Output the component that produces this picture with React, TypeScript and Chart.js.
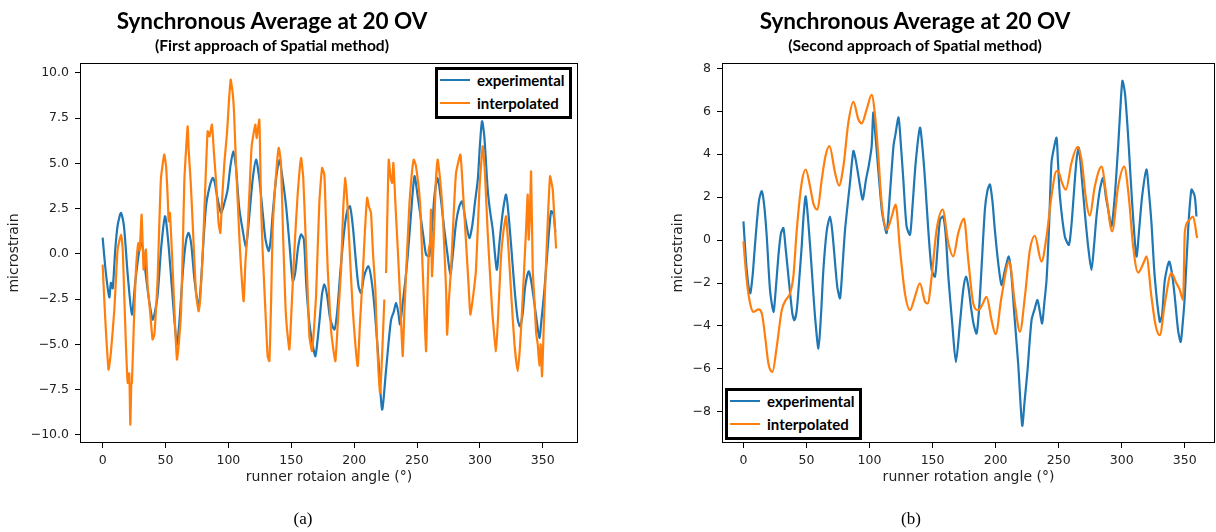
import React, { useEffect, useRef } from "react";
import { Chart, registerables } from "chart.js";

Chart.register(...registerables);

// ---------- tick labels ----------
const xTickValues = [0, 50, 100, 150, 200, 250, 300, 350];
const yTickValuesA = [-10, -7.5, -5, -2.5, 0, 2.5, 5, 7.5, 10];
const yTickValuesB = [-8, -6, -4, -2, 0, 2, 4, 6, 8];

const seriesLabels = ["experimental", "interpolated"];

// ---------- panel (a): first approach ----------
const expA_angle = [0, 2.5, 5.3, 6.6, 8, 10, 12, 14.6, 17, 20, 23.3, 26, 29.2, 30.5, 32, 34.4, 37, 39.7, 41, 43.7, 46.5, 49.6, 52, 55, 57, 59.1, 61, 64, 66.5, 68.4, 70.5, 73, 76.3, 78, 80, 82.2, 85, 87.5, 89, 91, 94.1, 96, 99.4, 101.5, 103.9, 106, 108.5, 111.3, 114, 116.5, 119.3, 122, 124.5, 127.3, 129.5, 132, 133.5, 135.3, 138, 140.6, 143, 145.9, 148.5, 151.2, 153, 155.5, 157.8, 160, 162, 164.4, 167, 169.2, 172.3, 174.5, 176.3, 178.5, 181, 184.3, 186.5, 189, 192.2, 194.5, 196.7, 199, 201.5, 203.5, 205.5, 208, 211.3, 213.5, 216.1, 219, 222.2, 225.4, 227.5, 229.4, 231.5, 233.3, 235, 236.5, 238.5, 240.5, 242.6, 245, 248, 250.5, 253.2, 255.2, 257.2, 259.8, 262, 264, 266.4, 268.5, 271.7, 274, 276.5, 278.5, 281, 283.5, 285.8, 288.5, 291.6, 294, 296, 298.3, 300, 301.7, 303.5, 306.2, 308, 310.2, 313.4, 315.5, 318.1, 320.8, 323, 326.1, 328, 330.1, 331.9, 334, 336, 338.8, 341, 344.7, 347.3, 349, 351.3, 354, 356.6, 358.5, 360];
const expA_value = [0.9, -1.0, -2.4, -1.6, -1.9, 0.2, 1.6, 2.27, 1.5, -1.2, -3.35, -1.5, 0.24, 0.6, 0.3, -1.2, -2.6, -3.63, -3.4, -2.3, 0.3, 2.08, 0.8, -1.8, -3.6, -5.0, -3.8, -0.8, 0.8, 1.16, 0.5, -1.4, -2.89, -1.8, 0.5, 2.63, 3.7, 4.2, 4.0, 3.2, 2.27, 2.6, 3.55, 4.8, 5.67, 4.8, 2.6, 1.34, 0.42, 2.0, 4.1, 5.21, 4.2, 2.27, 0.8, 0.15, 0.7, 2.27, 4.2, 5.2, 4.2, 2.63, 0.6, -1.51, -1.1, 0.4, 1.07, 0.8, -1.8, -3.81, -5.0, -5.65, -3.8, -2.2, -1.69, -2.3, -3.6, -4.18, -3.2, -1.0, 1.34, 2.4, 2.63, 1.5, -0.5, -1.8, -2.15, -1.2, -0.68, -1.3, -2.9, -5.5, -8.6, -6.4, -4.8, -3.63, -3.2, -2.71, -3.2, -3.9, -2.8, -1.6, -0.13, 2.0, 4.29, 3.2, 1.9, 0.9, -0.04, -0.13, 1.5, 3.3, 4.2, 3.3, 1.34, 0.1, -1.14, 0.0, 1.7, 2.6, 2.9, 1.9, 0.88, 1.6, 2.8, 4.1, 6.0, 7.33, 6.5, 3.55, 2.4, 1.34, -0.87, 0.6, 2.27, 3.28, 2.0, -0.68, -2.3, -3.63, -4.0, -3.3, -1.8, -0.96, -1.6, -3.44, -4.64, -3.6, -1.97, 0.4, 2.36, 2.2, 1.2];

const intA_angle = [0, 2, 4.7, 6.5, 9.3, 11.9, 14.6, 16, 17.2, 18.5, 19.9, 21.2, 22, 22.8, 23.3, 25, 26.5, 28.4, 29.5, 31, 32.6, 34.4, 35.8, 37.5, 39.7, 41.1, 42.5, 43.7, 45, 46.4, 49, 50.5, 51.7, 52.5, 53.5, 55.7, 57.5, 59.1, 60.5, 62.3, 63.8, 65, 67.6, 68.4, 70, 71.6, 74.2, 76.3, 77.5, 79.5, 81.5, 83.5, 85, 86.9, 88.5, 90.1, 92.2, 93.6, 95, 96.8, 98.9, 100.5, 101.8, 103.4, 104.5, 106, 107.5, 109.2, 112.1, 113.5, 115.3, 117, 118.5, 121.4, 122.5, 124.6, 126, 127.3, 129, 131.2, 132.6, 134, 135.2, 137.5, 140, 141.8, 143.5, 145.3, 146.4, 148.5, 150.5, 152.5, 155, 157.8, 159.5, 161.2, 162.8, 164.4, 166.5, 168, 169.7, 172.3, 174.5, 176.3, 177.5, 179, 181.6, 183.5, 185.1, 187.5, 189.6, 191.3, 193, 194.9, 196.8, 198.9, 202.8, 204.5, 206.8, 208.5, 210.3, 211.8, 213.4, 215, 216.9, 218, 219.5, 220.6, 222.2, 224, 224.7, 225.4, 226.5, 227.5, 229, 230.2, 231.2, 233, 234.7, 236.5, 238.6, 240, 242, 244, 245.8, 247.4, 249.2, 252.4, 254.5, 256, 257.2, 258.2, 259.3, 260.3, 261.1, 261.9, 263.5, 264.8, 266.4, 268.5, 270.4, 273.1, 273.9, 275.3, 277, 279, 281, 284.5, 286.5, 289, 290.8, 292.4, 294.5, 296.9, 299.6, 302.2, 304, 306.2, 309.7, 312.8, 314.8, 316.8, 318.8, 320.8, 322.8, 324.8, 327.5, 330.1, 332, 334.1, 336.7, 338, 338.8, 339.7, 340.7, 342, 343.3, 344.7, 346, 347.3, 348.3, 349.4, 351, 352.6, 354.2, 355.8, 357.9, 359.2, 360.6];
const intA_value = [-0.59, -3.5, -6.39, -5.5, -3.08, 0.24, 1.07, 0.2, -2.34, -5.0, -7.13, -6.6, -9.43, -7.2, -7.13, -3.5, -0.87, 0.6, 0.2, 2.17, -0.87, 0.24, -1.79, -3.0, -4.73, -4.46, -3.0, -1.42, 1.5, 4.2, 5.49, 4.8, 3.19, 1.8, 2.27, -0.87, -3.8, -5.84, -5.0, -3.26, 0.5, 4.1, 7.05, 5.76, 4.0, 1.7, -2.15, -3.17, -2.6, -0.13, 3.5, 6.78, 6.5, 7.15, 5.6, 4.1, 1.7, 1.16, 3.0, 5.03, 6.68, 8.5, 9.63, 8.9, 7.8, 5.03, 2.8, 0.24, -2.62, -0.5, 1.34, 3.8, 5.95, 7.15, 6.4, 7.42, 2.63, 0.06, -2.5, -5.65, -5.93, -2.5, 1.34, 4.0, 5.86, 5.03, 1.0, -2.71, -4.0, -5.28, -2.6, 0.24, 3.2, 5.3, 4.2, 1.34, -1.6, -4.55, -5.38, -4.2, -2.34, 2.82, 4.75, 4.38, 2.0, -0.87, -4.18, -5.3, -5.93, -3.2, -0.87, 2.5, 4.2, 2.45, -0.3, -3.08, -6.2, -4.0, -1.23, 1.2, 3.1, 2.6, 2.27, 0.0, -1.97, -4.5, -6.67, -7.68, -5.65, -2.52, null, -1.05, 2.5, 5.21, 4.2, 3.92, 5.03, 2.5, 0.24, -2.34, -5.65, -3.08, 0.0, 2.82, 4.4, 5.21, 4.84, 2.82, -0.87, -3.5, -5.38, -2.5, 0.24, 0.6, 2.45, -1.23, 1.2, 3.8, 5.21, 4.0, 2.27, -1.97, -4.46, -2.6, -0.87, 2.0, 4.47, 5.49, 3.5, 0.6, -1.5, -3.35, -2.4, -0.87, 3.55, 5.95, 4.5, 1.16, -3.08, -5.38, -3.0, -0.13, 1.3, 2.08, 0.2, -2.15, -5.0, -6.48, -5.0, -2.34, 1.34, 3.28, 0.79, 2.0, 4.56, -0.87, -2.5, -4.36, -5.0, -6.2, -5.0, -6.76, -3.5, -0.5, 2.2, 4.29, 3.55, 2.0, 0.3];

// ---------- panel (b): second approach ----------
const expB_angle = [0, 2.6, 5.3, 7.2, 8.8, 10.6, 12.5, 14.6, 16.5, 18.5, 21.1, 23.8, 25.5, 27.7, 29.7, 31.7, 33.5, 35.7, 38.8, 40.4, 42.3, 44.3, 46.2, 47.8, 49.4, 51.5, 54.2, 56.8, 59.5, 61.5, 63.4, 66, 68.7, 70.5, 72.7, 74.5, 76.6, 78.5, 80.6, 84.5, 87.2, 89, 92.5, 94.6, 97.2, 99.5, 101.7, 103, 104.5, 106.5, 109.7, 111.5, 113.6, 116, 119, 120.5, 123, 124.8, 126.8, 129.4, 132.1, 134, 136.6, 140, 142, 144, 146.6, 149.3, 151.9, 153.8, 155.9, 158.5, 160.5, 162.5, 165.6, 168.5, 171.7, 174.3, 176.5, 178.5, 180.4, 182.5, 184.9, 186.9, 188.9, 191.5, 193.5, 195.5, 197.5, 199.4, 202.1, 204.7, 207, 210.5, 212.5, 214.8, 217.9, 221.1, 223, 225.3, 228.5, 231, 233.2, 235, 236.9, 238.5, 240.4, 242.5, 244.3, 246.3, 248.3, 249.5, 251, 254.9, 258.1, 260, 261.5, 264.2, 266, 268.5, 270.8, 273.4, 276, 278, 280, 282.7, 285.3, 287.5, 289.3, 291.9, 294.5, 297.2, 299, 300.6, 302.5, 304, 305.6, 308.3, 311.7, 314, 316.2, 319.6, 321.5, 323.6, 326.2, 330.2, 332, 334.2, 337.6, 340, 342.1, 344.7, 346.8, 348.5, 350, 352.7, 355.3, 357.9, 359.3];
const expB_value = [0.87, -1.39, -2.48, -1.7, -0.5, 0.8, 1.9, 2.28, 1.6, 0.17, -2.33, -3.34, -2.4, -0.76, 0.3, 0.56, -0.4, -1.7, -3.42, -3.73, -3.26, -1.8, -0.3, 1.2, 2.04, 0.8, -1.39, -3.57, -5.05, -3.5, -1.39, 0.4, 1.1, 0.4, -1.08, -2.2, -2.71, -1.3, 0.48, 2.67, 4.15, 3.76, 2.51, 1.89, 2.82, 3.5, 4.38, 5.94, 5.0, 3.6, 1.42, 0.8, 0.33, 2.0, 4.38, 4.9, 5.71, 4.5, 2.82, 0.64, 0.25, 1.5, 3.6, 5.24, 4.3, 2.82, 0.48, -1.39, -1.7, -0.5, 0.95, 1.1, 0.2, -1.7, -3.88, -5.68, -3.88, -2.32, -1.7, -2.2, -3.1, -3.9, -4.35, -3.2, -1.23, 1.42, 2.3, 2.59, 1.8, 0.48, -1.08, -2.09, -1.5, -0.76, -1.6, -3.42, -5.76, -8.64, -7.5, -6.07, -3.73, -3.2, -2.79, -3.3, -3.88, -3.0, -1.86, 0.8, 3.6, 4.3, 4.77, 3.6, 2.04, 0.17, -0.22, 0.6, 1.73, 3.76, 4.3, 2.8, 1.26, -0.3, -1.39, -0.3, 1.1, 2.35, 2.9, 2.0, 1.42, 0.64, 2.04, 4.38, 6.2, 7.42, 6.88, 5.8, 4.38, 1.73, -0.76, 0.6, 2.04, 3.29, 2.3, 0.8, -1.7, -3.8, -3.5, -1.86, -1.0, -1.6, -2.64, -4.19, -4.74, -3.8, -2.64, 0.48, 2.35, 2.04, 1.1];

const intB_angle = [0, 2.6, 5.3, 8, 11.9, 14.6, 17.2, 19.8, 23, 26.4, 30.4, 33.6, 37, 39.6, 42.3, 46.2, 49.4, 52.8, 55.5, 58.7, 62.1, 65, 68.2, 72.7, 75.8, 79.3, 83.2, 87.2, 91.1, 93.8, 97.8, 101.7, 104.4, 107, 109.6, 113.6, 117.6, 120.7, 124.2, 128.1, 132.1, 136, 140, 144, 146.1, 149.3, 153.2, 158, 162.5, 166.4, 170.4, 174.9, 178.3, 182.3, 186.2, 189.5, 192.8, 196.8, 200, 204.7, 210.8, 215.3, 219.3, 223.2, 227.2, 231.1, 236.4, 240.4, 244.3, 248.3, 249.6, 252.5, 255.7, 260.2, 265, 268.1, 272.1, 274.7, 278.7, 284, 287.9, 292.4, 297.2, 302, 305.6, 309.1, 313, 317.8, 319.6, 323.6, 327, 330.2, 334.2, 339.4, 343.4, 346, 348.7, 349.5, 350, 352.7, 356.6, 359.8];
const intB_value = [-0.06, -1.86, -2.95, -3.34, -3.23, -3.42, -4.5, -5.75, -6.14, -4.97, -3.26, -2.79, -2.48, -1.7, 0.48, 2.67, 3.29, 2.51, 1.7, 1.42, 2.82, 3.9, 4.38, 3.13, 2.54, 3.44, 5.47, 6.44, 5.63, 5.44, 6.1, 6.77, 5.79, 3.91, 1.73, 0.48, 1.1, 1.65, -0.45, -2.48, -3.26, -2.64, -2.01, -2.87, -2.95, -1.7, 0.48, 1.42, -0.14, -0.76, 0.33, 1.0, -0.92, -2.95, -3.26, -3.0, -2.64, -3.73, -4.38, -2.64, -1.0, -2.95, -4.27, -2.64, -0.45, 0.2, -1.0, 0.17, 2.04, 3.21, 3.21, 2.7, 2.35, 3.6, 4.35, 3.76, 1.73, 1.14, 2.51, 3.42, 2.04, 0.41, 2.51, 3.42, 2.04, -0.3, -1.51, -1.0, -0.76, -2.64, -4.0, -4.43, -2.95, -1.54, -2.01, -2.3, -2.79, -1.0, 0.33, 0.87, 1.1, 0.1];

// ---------- helpers ----------
const BLUE = "#1f77b4";
const ORANGE = "#ff7f0e";
const TICK_FONT = { family: "'DejaVu Sans', sans-serif", size: 12.5 };
const AXIS_TITLE_FONT = { family: "'DejaVu Sans', sans-serif", size: 14 };
const TITLE_FONT = "'Lato', 'Open Sans', sans-serif";

function toPoints(xs: number[], ys: (number | null)[]) {
  return xs.map((x, i) => ({ x, y: ys[i] }));
}

const minus = (s: string) => s.replace("-", "\u2212");

const framePlugin = {
  id: "frame",
  afterDatasetsDraw(chart: any) {
    const { ctx, chartArea } = chart;
    const l = Math.round(chartArea.left) + 0.5;
    const t = Math.round(chartArea.top) + 0.5;
    const r = Math.round(chartArea.right) - 0.5;
    const b = Math.round(chartArea.bottom) - 0.5;
    ctx.save();
    ctx.strokeStyle = "#000";
    ctx.lineWidth = 1;
    ctx.strokeRect(l, t, r - l, b - t);
    ctx.restore();
  },
};

type PanelCfg = {
  left: number;
  padLeft: number;
  padRight: number;
  yAxisWidth: number;
  xMin: number;
  xMax: number;
  yMin: number;
  yMax: number;
  yTicks: number[];
  yFmt: (v: number) => string;
  xTitle: string;
  expX: number[];
  expY: number[];
  intX: number[];
  intY: (number | null)[];
  intSmooth: boolean;
};

function Panel({ cfg }: { cfg: PanelCfg }) {
  const ref = useRef<HTMLCanvasElement>(null);
  useEffect(() => {
    const chart = new Chart(ref.current as HTMLCanvasElement, {
      type: "line",
      data: {
        datasets: [
          {
            label: seriesLabels[1],
            data: toPoints(cfg.intX, cfg.intY) as any,
            borderColor: ORANGE,
            backgroundColor: ORANGE,
            borderWidth: 2.2,
            pointRadius: 0,
            tension: cfg.intSmooth ? 0 : 0.15,
            cubicInterpolationMode: cfg.intSmooth ? "monotone" : "default",
            spanGaps: false,
            order: 0,
          },
          {
            label: seriesLabels[0],
            data: toPoints(cfg.expX, cfg.expY) as any,
            borderColor: BLUE,
            backgroundColor: BLUE,
            borderWidth: 2.2,
            pointRadius: 0,
            tension: 0.25,
            order: 1,
          },
        ],
      },
      options: {
        responsive: false,
        animation: false,
        events: [],
        layout: { padding: { left: cfg.padLeft, right: cfg.padRight, top: 63, bottom: 41 } },
        plugins: {
          legend: { display: false },
          tooltip: { enabled: false },
          title: { display: false },
        },
        scales: {
          x: {
            type: "linear",
            min: cfg.xMin,
            max: cfg.xMax,
            afterBuildTicks: (s: any) => {
              s.ticks = xTickValues.map((v) => ({ value: v }));
            },
            afterFit: (s: any) => {
              s.height = 48;
            },
            ticks: {
              autoSkip: false,
              maxRotation: 0,
              padding: 5,
              color: "#222",
              font: TICK_FONT,
              callback: (v: any) => String(v),
            },
            grid: { drawOnChartArea: false, drawTicks: true, tickLength: 5, color: "#000", lineWidth: 1 },
            border: { display: false },
            title: {
              display: true,
              text: cfg.xTitle,
              color: "#222",
              font: AXIS_TITLE_FONT,
              padding: { top: 0, bottom: 5 },
            },
          },
          y: {
            type: "linear",
            min: cfg.yMin,
            max: cfg.yMax,
            afterBuildTicks: (s: any) => {
              s.ticks = cfg.yTicks.map((v) => ({ value: v }));
            },
            afterFit: (s: any) => {
              s.width = cfg.yAxisWidth;
            },
            ticks: {
              autoSkip: false,
              padding: 6,
              color: "#222",
              font: TICK_FONT,
              callback: (v: any) => cfg.yFmt(Number(v)),
            },
            grid: { drawOnChartArea: false, drawTicks: true, tickLength: 5, color: "#000", lineWidth: 1 },
            border: { display: false },
            title: {
              display: true,
              text: "microstrain",
              color: "#222",
              font: AXIS_TITLE_FONT,
              padding: { top: 6, bottom: 0 },
            },
          },
        },
      } as any,
      plugins: [framePlugin],
    });
    return () => chart.destroy();
  }, [cfg]);
  return (
    <canvas
      ref={ref}
      width={608}
      height={532}
      style={{ position: "absolute", left: cfg.left, top: 0, width: 608, height: 532 }}
    />
  );
}

function Legend({ left, top }: { left: number; top: number }) {
  const rows = [
    { label: seriesLabels[0], color: BLUE },
    { label: seriesLabels[1], color: ORANGE },
  ];
  return (
    <div
      style={{
        position: "absolute",
        left,
        top,
        width: 131,
        height: 46,
        border: "3px solid #000",
        background: "#fff",
        boxSizing: "content-box",
      }}
    >
      {rows.map((r, i) => (
        <div key={r.label} style={{ position: "absolute", left: 2, top: i * 23, height: 20, width: 130 }}>
          <div style={{ position: "absolute", left: 0, top: 9, width: 30, height: 2, background: r.color }} />
          <div
            style={{
              position: "absolute",
              left: 37,
              top: 0,
              lineHeight: "20px",
              fontFamily: TITLE_FONT,
              fontWeight: 700,
              fontSize: 15,
              color: "#000",
              whiteSpace: "nowrap",
            }}
          >
            {r.label}
          </div>
        </div>
      ))}
    </div>
  );
}

function Titles({ cx, sub }: { cx: number; sub: string }) {
  return (
    <>
      <div
        style={{
          position: "absolute",
          left: cx - 250,
          top: 8,
          width: 500,
          textAlign: "center",
          fontFamily: TITLE_FONT,
          fontWeight: 700,
          fontSize: 22.5,
          lineHeight: "26px",
          color: "#000",
        }}
      >
        Synchronous Average at 20 OV
      </div>
      <div
        style={{
          position: "absolute",
          left: cx - 250,
          top: 35,
          width: 500,
          textAlign: "center",
          fontFamily: TITLE_FONT,
          fontWeight: 700,
          fontSize: 15.6,
          lineHeight: "20px",
          color: "#000",
        }}
      >
        {sub}
      </div>
    </>
  );
}

const cfgA: PanelCfg = {
  left: 0,
  padLeft: 0,
  padRight: 30,
  yAxisWidth: 80,
  xMin: -18,
  xMax: 378,
  yMin: -10.45,
  yMax: 10.55,
  yTicks: yTickValuesA,
  yFmt: (v) => minus(v.toFixed(1)),
  xTitle: "runner rotaion angle (°)",
  expX: expA_angle,
  expY: expA_value,
  intX: intA_angle,
  intY: intA_value,
  intSmooth: false,
};

const cfgB: PanelCfg = {
  left: 608,
  padLeft: 56,
  padRight: 1,
  yAxisWidth: 58,
  xMin: -17,
  xMax: 374,
  yMin: -9.45,
  yMax: 8.25,
  yTicks: yTickValuesB,
  yFmt: (v) => minus(String(v)),
  xTitle: "runner rotation angle (°)",
  expX: expB_angle,
  expY: expB_value,
  intX: intB_angle,
  intY: intB_value,
  intSmooth: true,
};

export default function App() {
  return (
    <div style={{ position: "absolute", left: 0, top: 0, width: 1216, height: 532, background: "#fff", overflow: "hidden" }}>
      <Panel cfg={cfgA} />
      <Panel cfg={cfgB} />
      <Titles cx={272} sub="(First approach of Spatial method)" />
      <Titles cx={915} sub="(Second approach of Spatial method)" />
      <Legend left={435} top={67} />
      <Legend left={725} top={388} />
      {[
        { t: "(a)", cx: 303 },
        { t: "(b)", cx: 911 },
      ].map((c) => (
        <div
          key={c.t}
          style={{
            position: "absolute",
            left: c.cx - 40,
            top: 508,
            width: 80,
            textAlign: "center",
            fontFamily: "'Liberation Serif', 'Times New Roman', serif",
            fontSize: 17,
            lineHeight: "22px",
            color: "#000",
          }}
        >
          {c.t}
        </div>
      ))}
    </div>
  );
}
